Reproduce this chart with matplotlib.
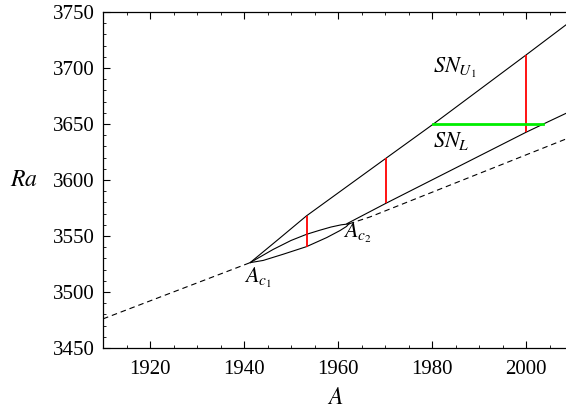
import matplotlib
matplotlib.use("Agg")
import matplotlib.pyplot as plt
from matplotlib.ticker import MultipleLocator

plt.rcParams['font.family'] = ['Liberation Serif', 'DejaVu Serif']
plt.rcParams['mathtext.fontset'] = 'stix'

# ---- data ----
# SN_U1 branch (A, Ra)
snu_A = [1941.3, 1947.3, 1953.3, 1970.2, 1980.3, 2000.0, 2008.5]
snu_Ra = [3526.2, 3547.0, 3568.0, 3619.4, 3650.0, 3711.6, 3738.5]
# SN_L branch
snl_A = [1961.9, 1970.2, 2000.0, 2003.7, 2008.5]
snl_Ra = [3561.0, 3579.2, 3642.6, 3650.0, 3659.5]
# loop between A_c1 and A_c2 (upper and lower edges)
loop_up_A = [1941.3, 1946.2, 1950.0, 1953.3, 1956.0, 1958.5, 1960.7, 1962.3]
loop_up_Ra = [3526.2, 3538.0, 3546.0, 3551.5, 3555.0, 3558.0, 3560.0, 3560.8]
loop_lo_A = [1941.3, 1944.1, 1948.4, 1953.3, 1957.6, 1960.4, 1961.8, 1962.3]
loop_lo_Ra = [3526.2, 3528.2, 3533.8, 3540.5, 3548.6, 3554.8, 3558.5, 3560.8]
# dashed primary curve (two visible pieces)
dash1_A = [1910.0, 1941.3]
dash1_Ra = [3476.0, 3526.2]
dash2_A = [1962.3, 1966.8, 2008.5]
dash2_Ra = [3560.8, 3567.0, 3636.6]
# red vertical segments
red_A = [1953.3, 1970.2, 2000.0]
red_lo = [3540.5, 3579.2, 3642.6]
red_hi = [3568.0, 3619.4, 3711.6]
# green horizontal segment
green_A = [1980.3, 2003.7]
green_Ra = [3650.0, 3650.0]

xticks = [1920, 1940, 1960, 1980, 2000]
yticks = [3450, 3500, 3550, 3600, 3650, 3700, 3750]

fig = plt.figure(figsize=(5.66, 4.13), dpi=100)
ax = fig.add_axes([103/566, 65/413, 470/566, 336/413])

lw = 0.8
ax.plot(snu_A, snu_Ra, color='black', lw=lw)
ax.plot(snl_A, snl_Ra, color='black', lw=lw)
ax.plot(loop_up_A, loop_up_Ra, color='black', lw=lw)
ax.plot(loop_lo_A, loop_lo_Ra, color='black', lw=lw)
ax.plot(dash1_A, dash1_Ra, color='black', lw=lw, dashes=(5, 3.5))
ax.plot(dash2_A, dash2_Ra, color='black', lw=lw, dashes=(5, 3.5))
ax.vlines(red_A, red_lo, red_hi, colors='red', lw=1.3)
ax.plot(green_A, green_Ra, color='#00ee00', lw=2.0)

ax.set_xlim(1910, 2010)
ax.set_ylim(3450, 3750)
ax.set_xticks(xticks)
ax.set_yticks(yticks)
ax.xaxis.set_minor_locator(MultipleLocator(5))
ax.yaxis.set_minor_locator(MultipleLocator(10))
ax.tick_params(which='both', direction='in', top=True, right=True,
               labelsize=15)
ax.tick_params(which='major', length=5, width=0.8)
ax.tick_params(which='minor', length=2.5, width=0.6)
ax.tick_params(axis='x', pad=9)
ax.tick_params(axis='y', pad=6)
for s in ax.spines.values():
    s.set_linewidth(0.9)

ax.text(1980.2, 3695.5, r'$SN_{U_1}$', fontsize=16, ha='left', va='baseline')
ax.text(1980.2, 3629.5, r'$SN_{L}$', fontsize=16, ha='left', va='baseline')
ax.text(1940.0, 3508.0, r'$A_{c_1}$', fontsize=16, ha='left', va='baseline')
ax.text(1961.1, 3548.2, r'$A_{c_2}$', fontsize=16, ha='left', va='baseline')

fig.text(24/566, 1 - 181/413, r'$Ra$', fontsize=17, ha='center', va='center')
fig.text(335/566, 1 - 398/413, r'$A$', fontsize=17, ha='center', va='center')

fig.savefig('out.png', dpi=100)
